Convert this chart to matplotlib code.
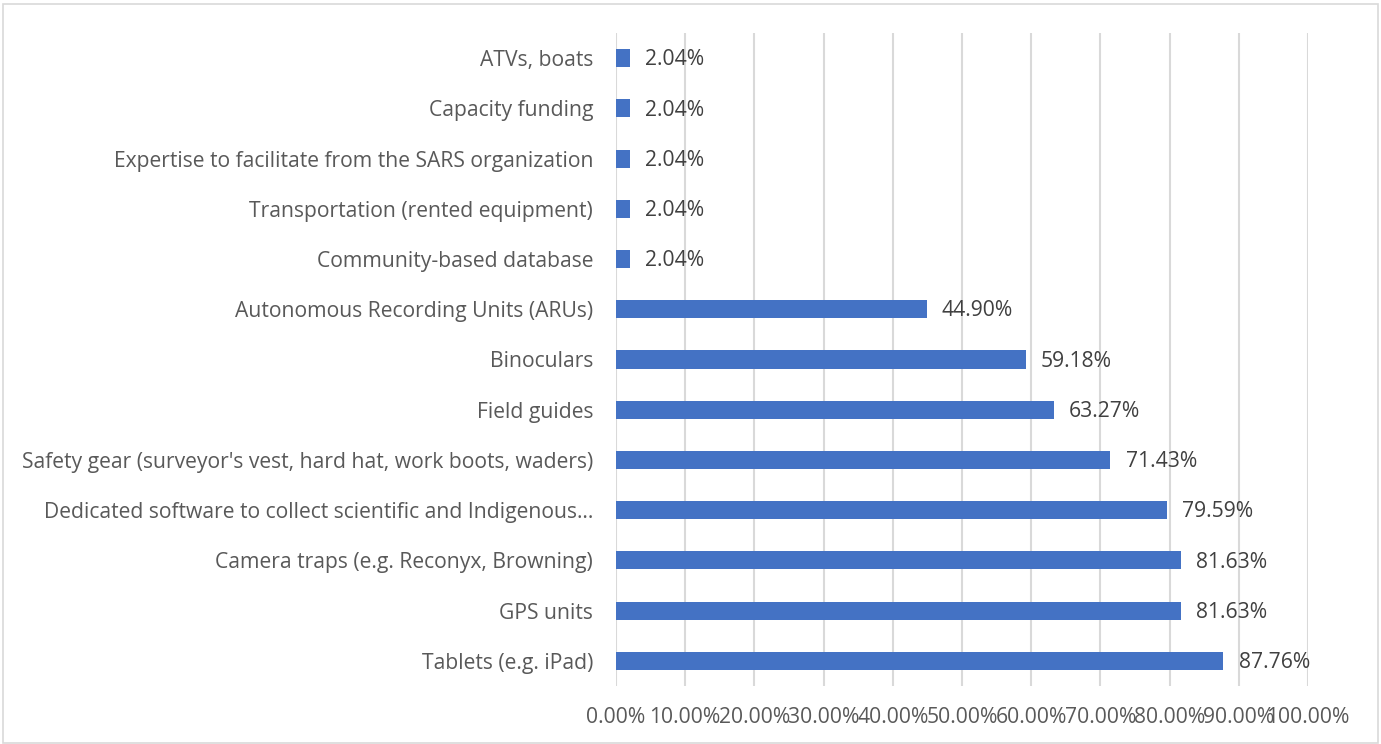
import matplotlib
matplotlib.use("Agg")
import matplotlib.pyplot as plt
from matplotlib.patches import Rectangle

categories = [
    "Tablets (e.g. iPad)",
    "GPS units",
    "Camera traps (e.g. Reconyx, Browning)",
    "Dedicated software to collect scientific and Indigenous\u2026",
    "Safety gear (surveyor's vest, hard hat, work boots, waders)",
    "Field guides",
    "Binoculars",
    "Autonomous Recording Units (ARUs)",
    "Community-based database",
    "Transportation (rented equipment)",
    "Expertise to facilitate from the SARS organization",
    "Capacity funding",
    "ATVs, boats",
]
values = [87.76, 81.63, 81.63, 79.59, 71.43, 63.27, 59.18, 44.90,
          2.04, 2.04, 2.04, 2.04, 2.04]
x_ticks = [0, 10, 20, 30, 40, 50, 60, 70, 80, 90, 100]

plt.rcParams["font.family"] = ["Open Sans", "DejaVu Sans"]
FS = 15.2

W, H = 1381, 744
fig = plt.figure(figsize=(W / 100, H / 100), dpi=100)
fig.patches.append(Rectangle((3 / W, 1 / H), (W - 6) / W, (H - 5) / H,
                             transform=fig.transFigure, fill=False,
                             edgecolor="#d9d9d9", linewidth=1.2))

ax = fig.add_axes([616 / W, 1 - 686 / H, (1308 - 616) / W, (686 - 33) / H])
y = range(len(categories))
ax.barh(y, values, height=0.36, color="#4472C4", zorder=3)
ax.set_xlim(0, 100)
ax.set_ylim(-0.5, len(categories) - 0.5)
ax.set_xticks(x_ticks)
ax.set_xticklabels([f"{t:.2f}%" for t in x_ticks])
ax.set_yticks(list(y))
ax.set_yticklabels(categories)
ax.tick_params(axis="both", length=0, labelsize=FS, colors="#595959")
ax.tick_params(axis="x", pad=15)
ax.tick_params(axis="y", pad=16.5)
ax.grid(axis="x", color="#d9d9d9", linewidth=1.5, zorder=0)
for s in ax.spines.values():
    s.set_visible(False)

for yi, v in zip(y, values):
    ax.annotate(f"{v:.2f}%", (v, yi), xytext=(11, -1.2), textcoords="offset points",
                va="center", ha="left", fontsize=FS, color="#404040")

fig.savefig("out.png", dpi=100)
